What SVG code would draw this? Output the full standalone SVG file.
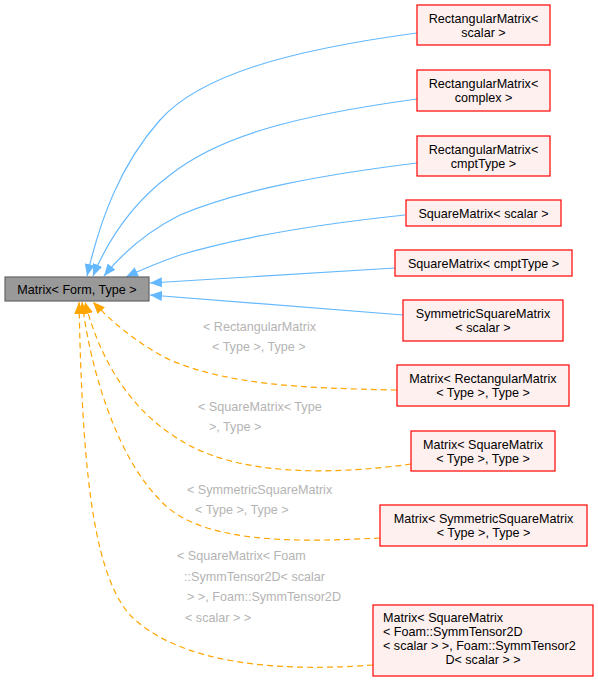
<svg xmlns="http://www.w3.org/2000/svg" width="598" height="681" viewBox="0 0 598 681">
<style>
text{font-family:"Liberation Sans",Arial,Helvetica,sans-serif;font-size:12.6px;fill:#000}
.n rect{fill:#fff0f0;stroke:#ff0000;stroke-width:1.2}
.m rect{fill:#999999;stroke:#666666;stroke-width:1.2}
.c{text-anchor:middle}
.b{fill:none;stroke:#63b8ff;stroke-width:1.2}
.o{fill:none;stroke:#ffa500;stroke-width:1.2;stroke-dasharray:6,4}
.l{fill:#b4b4b4}
</style>
<defs>
<marker id="ab" markerUnits="userSpaceOnUse" markerWidth="13" markerHeight="10" refX="12" refY="5" orient="auto"><path d="M0,0 L12,5 L0,10 z" fill="#63b8ff"/></marker>
<marker id="ao" markerUnits="userSpaceOnUse" markerWidth="13" markerHeight="10" refX="12" refY="5" orient="auto"><path d="M0,0 L12,5 L0,10 z" fill="#ffa500"/></marker>
</defs>
<g id="edges">
<path class="b" marker-end="url(#ab)" d="M417,33 C290,50 200,75 160,120 C120,165 100,220 87,276"/>
<path class="b" marker-end="url(#ab)" d="M417,99 C300,115 220,135 170,175 C130,205 108,240 93,276"/>
<path class="b" marker-end="url(#ab)" d="M417,163 C320,175 240,190 180,215 C150,230 125,250 104,276"/>
<path class="b" marker-end="url(#ab)" d="M405,215 C310,225 230,240 180,255 C160,262 145,268 126,277"/>
<path class="b" marker-end="url(#ab)" d="M395,268 L150,283"/>
<path class="b" marker-end="url(#ab)" d="M403,315 L150,295"/>
<path class="o" marker-end="url(#ao)" d="M397,390 C300,388 230,385 170,360 C140,345 115,325 93,302"/>
<path class="o" marker-end="url(#ao)" d="M411,464 C340,474 240,478 180,440 C130,410 100,360 85,302"/>
<path class="o" marker-end="url(#ao)" d="M380,538 C300,542 200,545 160,500 C120,460 92,380 82,302"/>
<path class="o" marker-end="url(#ao)" d="M373,665 C280,672 180,665 130,615 C90,570 82,450 79,302"/>
<text class="l" x="203" y="331">&lt; RectangularMatrix</text>
<text class="l" x="212" y="351">&lt; Type &gt;, Type &gt;</text>
<text class="l" x="198" y="411">&lt; SquareMatrix&lt; Type</text>
<text class="l" x="209" y="431">&gt;, Type &gt;</text>
<text class="l" x="187" y="494">&lt; SymmetricSquareMatrix</text>
<text class="l" x="195" y="514">&lt; Type &gt;, Type &gt;</text>
<text class="l" x="177" y="560">&lt; SquareMatrix&lt; Foam</text>
<text class="l" x="184" y="581">::SymmTensor2D&lt; scalar</text>
<text class="l" x="187" y="601">&gt; &gt;, Foam::SymmTensor2D</text>
<text class="l" x="185" y="622">&lt; scalar &gt; &gt;</text>
</g>
<g id="main" class="m"><rect x="5" y="277" width="144" height="24"/><text class="c" x="77" y="294">Matrix&lt; Form, Type &gt;</text></g>
<g id="n1" class="n"><rect x="417" y="5" width="133" height="40"/><text class="c" x="483.5" y="23">RectangularMatrix&lt;</text><text class="c" x="483.5" y="37">scalar &gt;</text></g>
<g id="n2" class="n"><rect x="417" y="70" width="133" height="41"/><text class="c" x="483.5" y="88">RectangularMatrix&lt;</text><text class="c" x="483.5" y="102">complex &gt;</text></g>
<g id="n3" class="n"><rect x="417" y="136" width="133" height="40"/><text class="c" x="483.5" y="154">RectangularMatrix&lt;</text><text class="c" x="483.5" y="168">cmptType &gt;</text></g>
<g id="n4" class="n"><rect x="406" y="200" width="155" height="26"/><text class="c" x="483.5" y="218">SquareMatrix&lt; scalar &gt;</text></g>
<g id="n5" class="n"><rect x="395" y="250" width="177" height="26"/><text class="c" x="483.5" y="268">SquareMatrix&lt; cmptType &gt;</text></g>
<g id="n6" class="n"><rect x="403" y="300" width="160" height="41"/><text class="c" x="483" y="318">SymmetricSquareMatrix</text><text class="c" x="483" y="332">&lt; scalar &gt;</text></g>
<g id="n7" class="n"><rect x="397" y="365" width="172" height="41"/><text class="c" x="483" y="383">Matrix&lt; RectangularMatrix</text><text class="c" x="483" y="397">&lt; Type &gt;, Type &gt;</text></g>
<g id="n8" class="n"><rect x="411" y="431" width="144" height="40"/><text class="c" x="483" y="449">Matrix&lt; SquareMatrix</text><text class="c" x="483" y="463">&lt; Type &gt;, Type &gt;</text></g>
<g id="n9" class="n"><rect x="380" y="505" width="207" height="41"/><text class="c" x="483.5" y="523">Matrix&lt; SymmetricSquareMatrix</text><text class="c" x="483.5" y="537">&lt; Type &gt;, Type &gt;</text></g>
<g id="n10" class="n"><rect x="373" y="605" width="220" height="71"/><text x="383" y="622">Matrix&lt; SquareMatrix</text><text x="383" y="636">&lt; Foam::SymmTensor2D</text><text x="383" y="650">&lt; scalar &gt; &gt;, Foam::SymmTensor2</text><text class="c" x="483" y="664">D&lt; scalar &gt; &gt;</text></g>
</svg>
